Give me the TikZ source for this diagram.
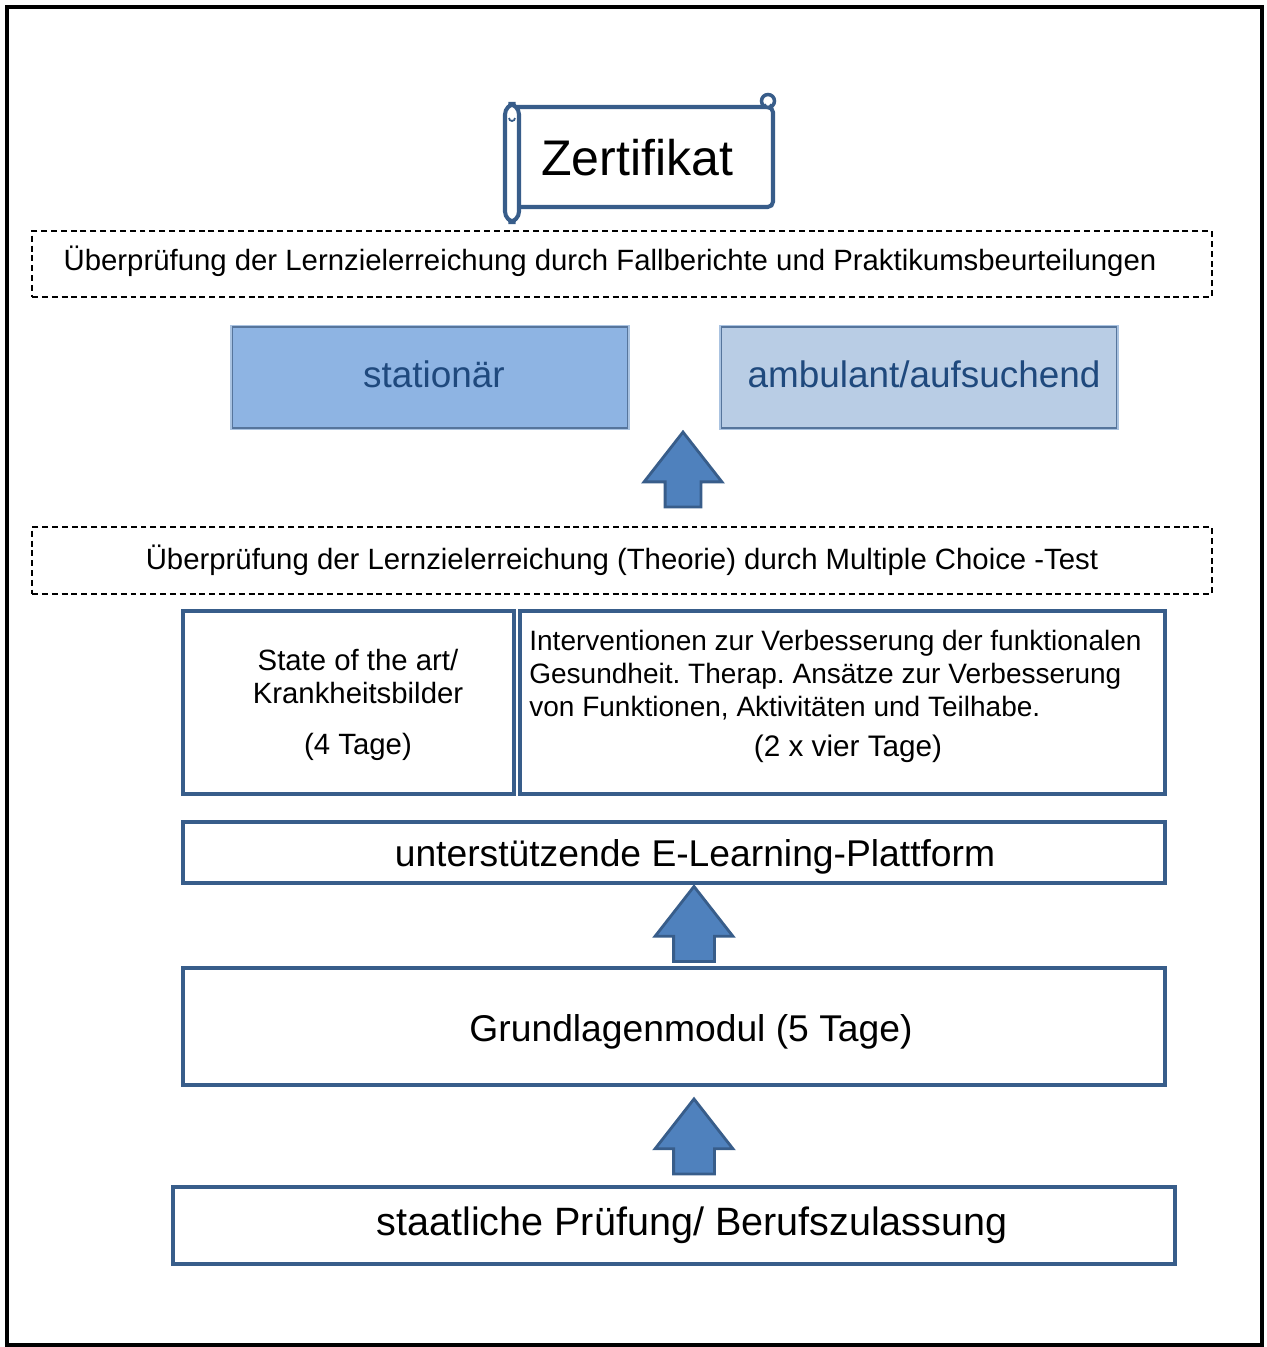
\documentclass[tikz,border=0pt]{standalone}
\usepackage{fontspec}
\setmainfont{Liberation Sans}
\usetikzlibrary{shapes}

\definecolor{boxblue}{RGB}{56,93,138}
\definecolor{arrowblue}{RGB}{79,129,189}
\definecolor{statfill}{RGB}{142,180,227}
\definecolor{ambfill}{RGB}{185,205,229}
\definecolor{stattext}{RGB}{31,73,125}
\definecolor{edgelight}{RGB}{170,195,225}

\begin{document}
\frenchspacing
\begin{tikzpicture}[x=0.02cm, y=-0.02cm,
        block/.style={rectangle, draw=boxblue, line width=2.2pt, inner sep=0pt},
        blocktext/.style={align=center, inner sep=0pt, font=\fontsize{21.2}{25}\selectfont},
        smalltext/.style={inner sep=0pt, font=\fontsize{16}{18.7}\selectfont},
        testblock/.style={rectangle, draw, dash pattern=on 3.4pt off 2.2pt, line width=0.9pt, minimum width=23.6cm, align=center, font=\fontsize{16.7}{19}\selectfont},
        colblock/.style={rectangle, draw=boxblue!85, line width=0.6pt, preaction={draw=edgelight, line width=2.6pt}, minimum width=7.92cm, minimum height=2.02cm, text=stattext, font=\fontsize{21}{25}\selectfont},
        uparrow/.style={single arrow, rotate=90, draw=boxblue, fill=arrowblue, line width=1.6pt, inner xsep=0pt, single arrow head extend=0.44cm, single arrow tip angle=76, minimum height=1.5cm}]

        \useasboundingbox (0,0) rectangle (1267,1347);
        \draw[line width=2.3pt] (7,7) rectangle (1262,1345);

        % scroll
        \draw[boxblue, line width=2.3pt, fill=white, rounded corners=3pt] (516,107) -- (773,107) -- (773,207) -- (516,207);
        \draw[boxblue, line width=2.3pt, fill=white, rounded corners=6pt] (505,104) rectangle (519,222);
        \draw[boxblue, line width=1pt] (509,118) arc[start angle=180, end angle=360, radius=0.06cm];
        \draw[boxblue, line width=2pt, fill=white] (768,101) circle[radius=0.13cm];
        \draw[boxblue, line width=1pt] (765,104) arc[start angle=180, end angle=360, radius=0.06cm];
        \node[font=\fontsize{28.5}{30}\selectfont] (zert) at (637,158) {Zertifikat};

        \node[testblock, minimum height=1.32cm] (praxtest) at (622,264) {};
        \node[testblock, draw=none, minimum width=0pt] (praxtxt) at (610,261) {Überprüfung der Lernzielerreichung durch Fallberichte und Praktikumsbeurteilungen};

        \node[colblock, fill=statfill] (stat) at (430,377.5) {};
        \node[text=stattext, font=\fontsize{21}{25}\selectfont, inner sep=0pt] (stattxt) at (434,374) {stationär};
        \node[colblock, fill=ambfill] (amb) at (919,377.5) {};
        \node[text=stattext, font=\fontsize{21}{25}\selectfont, inner sep=0pt] (ambtxt) at (924,374) {ambulant/aufsuchend};

        \node[uparrow, inner ysep=0.33cm, single arrow head extend=0.42cm] (arr1) at (683,481) {};

        \node[testblock, minimum height=1.34cm] (mctest) at (622,560.5) {Überprüfung der Lernzielerreichung (Theorie) durch Multiple Choice -Test};

        \node[block, minimum width=6.62cm, minimum height=3.66cm] (sota) at (348.5,702.5) {};
        \node[smalltext, align=center, font=\fontsize{16.7}{18.7}\selectfont] (sotatxt) at (358,705) {State of the art/\\Krankheitsbilder\\[0.38cm](4 Tage)};
        \node[block, minimum width=12.9cm, minimum height=3.66cm] (interv) at (842.5,702.5) {};
        \node[smalltext, align=left, anchor=north west, font=\fontsize{15.95}{18.7}\selectfont] (intervtxt) at (529,630) {Interventionen zur Verbesserung der funktionalen\\Gesundheit. Therap. Ansätze zur Verbesserung\\von Funktionen, Aktivitäten und Teilhabe.};
        \node[smalltext, font=\fontsize{16.9}{19}\selectfont] (intervdays) at (848,749) {(2 x vier Tage)};

        \node[block, minimum width=19.64cm, minimum height=1.22cm] (elearn) at (674,852.5) {};
        \node[blocktext] (elearntxt) at (695,856.5) {unterstützende E-Learning-Plattform};

        \node[uparrow, inner ysep=0.38cm, single arrow head extend=0.37cm] (arr2) at (694,937) {};

        \node[block, minimum width=19.64cm, minimum height=2.34cm] (grund) at (674,1026.5) {};
        \node[blocktext] (grundtxt) at (691,1031.5) {Grundlagenmodul (5 Tage)};

        \node[uparrow, inner ysep=0.38cm, single arrow head extend=0.37cm] (arr3) at (694,1149.5) {};

        \node[block, minimum width=20.04cm, minimum height=1.54cm] (staat) at (674,1225.5) {};
        \node[blocktext, font=\fontsize{22.5}{26}\selectfont] (staattxt) at (692,1225.5) {staatliche Prüfung/ Berufszulassung};
    \end{tikzpicture}
\end{document}
